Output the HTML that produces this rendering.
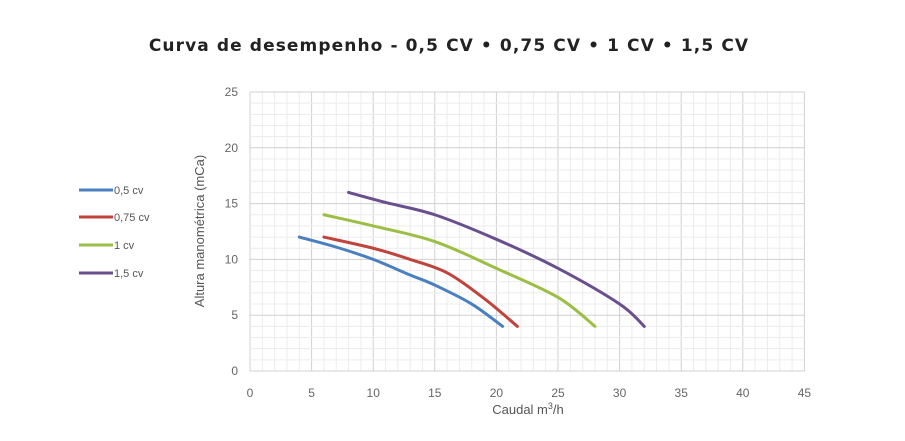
<!DOCTYPE html>
<html><head><meta charset="utf-8"><style>
html,body{margin:0;padding:0;background:#fff;}
svg{display:block;font-family:"Liberation Sans",sans-serif;}
</style></head><body>
<svg id="s" width="905" height="441" xmlns="http://www.w3.org/2000/svg">
<text x="449" y="51" text-anchor="middle" font-size="17" letter-spacing="1.1" font-weight="bold" fill="#222" font-family="DejaVu Sans, sans-serif">Curva de desempenho - 0,5 CV • 0,75 CV • 1 CV • 1,5 CV</text>
<g id="grid"></g>
<g id="curves" fill="none" stroke-width="3" stroke-linecap="round"></g>
<g font-size="12" fill="#666" id="labels"></g>
<text transform="translate(204,231) rotate(-90)" text-anchor="middle" font-size="13" fill="#555">Altura manométrica  (mCa)</text>
<text x="528" y="414" text-anchor="middle" font-size="13" fill="#555">Caudal m<tspan font-size="9" dy="-5">3</tspan><tspan dy="5">/h</tspan></text>
<g font-size="11" fill="#555">
<line x1="79" y1="190" x2="113" y2="190" stroke="#4a7fc0" stroke-width="3"/><text x="114" y="194">0,5 cv</text>
<line x1="79" y1="217" x2="113" y2="217" stroke="#c0433e" stroke-width="3"/><text x="114" y="221">0,75 cv</text>
<line x1="79" y1="245" x2="113" y2="245" stroke="#9bbf45" stroke-width="3"/><text x="114" y="249">1 cv</text>
<line x1="79" y1="273" x2="113" y2="273" stroke="#6a4f8e" stroke-width="3"/><text x="114" y="277">1,5 cv</text>
</g>
</svg>
<script>
const X=x=>250+12.32*x, Y=y=>371-11.16*y;
let g=document.getElementById('grid'),h='';
for(let i=0;i<=45;i++){h+=`<line x1="${X(i)}" y1="${Y(0)}" x2="${X(i)}" y2="${Y(25)}" stroke="${i%5?'#ececec':'#d0d0d0'}" stroke-width="1"/>`;}
for(let j=0;j<=25;j++){h+=`<line x1="${X(0)}" y1="${Y(j)}" x2="${X(45)}" y2="${Y(j)}" stroke="${j%5?'#ececec':'#d0d0d0'}" stroke-width="1"/>`;}
g.innerHTML=h;
let l='';
for(let i=0;i<=45;i+=5)l+=`<text x="${X(i)}" y="397" text-anchor="middle">${i}</text>`;
for(let j=0;j<=25;j+=5)l+=`<text x="238" y="${Y(j)+4}" text-anchor="end">${j}</text>`;
document.getElementById('labels').innerHTML=l;
const data=[
['#4a7fc0',[[4,12],[7,11.1],[10,10],[13,8.6],[15,7.7],[18,6],[20.5,4]]],
['#c0433e',[[6,12],[10,11],[13,10],[16,8.8],[19,6.5],[21.7,4]]],
['#9bbf45',[[6,14],[10,13],[15,11.6],[20,9.2],[25,6.6],[28,4]]],
['#6a4f8e',[[8,16],[11,15.1],[15,14],[20,11.8],[25,9.2],[30,6],[32,4]]]];
function path(p){p=p.map(a=>[X(a[0]),Y(a[1])]);let d=`M${p[0]}`;
for(let i=0;i<p.length-1;i++){let p0=p[i-1]||p[i],p1=p[i],p2=p[i+1],p3=p[i+2]||p2;
d+=`C${p1[0]+(p2[0]-p0[0])/6},${p1[1]+(p2[1]-p0[1])/6} ${p2[0]-(p3[0]-p1[0])/6},${p2[1]-(p3[1]-p1[1])/6} ${p2[0]},${p2[1]}`;}return d;}
let c='';data.forEach(([col,p])=>c+=`<path d="${path(p)}" stroke="${col}"/>`);
document.getElementById('curves').innerHTML=c;
</script>
</body></html>
